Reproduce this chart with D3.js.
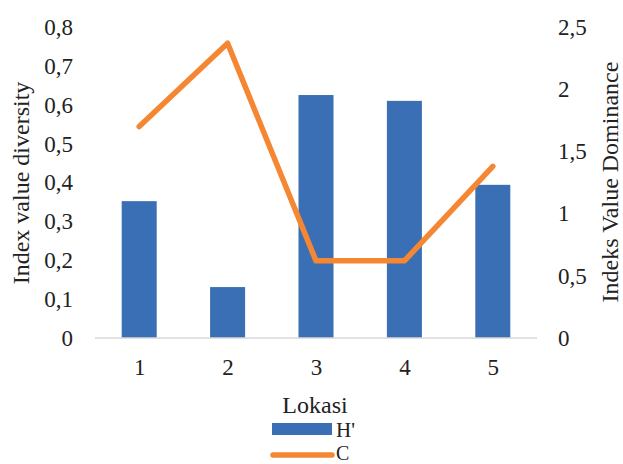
<!DOCTYPE html>
<html><head><meta charset="utf-8">
<script src="https://cdn.jsdelivr.net/npm/d3@7"></script>
<style>body{margin:0;background:#fff}svg{display:block}</style>
</head><body>
<svg id="c" width="623" height="464"></svg>
<script>
const categories = ["1","2","3","4","5"];
const hValues = [0.352, 0.131, 0.625, 0.610, 0.394];
const cValues = [1.70, 2.37, 0.62, 0.62, 1.38];
const leftTicks = [0,0.1,0.2,0.3,0.4,0.5,0.6,0.7,0.8];
const rightTicks = [0,0.5,1,1.5,2,2.5];

const FONT = "Liberation Serif";
const svg = d3.select("#c").attr("font-family", FONT);
const m = {l:95, r:537, t:27, b:338};
const xc = d3.scalePoint().domain(categories).range([m.l, m.r]).padding(0.5);
const yL = d3.scaleLinear().domain([0,0.8]).range([m.b, m.t]);
const yR = d3.scaleLinear().domain([0,2.5]).range([m.b, m.t]);
const fmt = d => String(d).replace(".", ",");

// bars
const bw = 35;
svg.append("g").selectAll("rect").data(hValues).join("rect")
  .attr("x", (d,i) => xc(categories[i]) - bw/2)
  .attr("width", bw)
  .attr("y", d => yL(d))
  .attr("height", d => m.b - yL(d))
  .attr("fill", "#3A6FB6");

// baseline
svg.append("line").attr("x1", m.l).attr("x2", m.r).attr("y1", m.b).attr("y2", m.b)
  .attr("stroke", "#d9d9d9").attr("stroke-width", 1.5);

// line
const line = d3.line().x((d,i) => xc(categories[i])).y(d => yR(d));
svg.append("path").datum(cValues).attr("d", line).attr("fill","none")
  .attr("stroke","#F58733").attr("stroke-width",5.5)
  .attr("stroke-linecap","round").attr("stroke-linejoin","round");

function styleAxis(g){
  g.select(".domain").remove();
  g.attr("font-family", FONT).attr("font-size", 23);
  g.selectAll("text").attr("fill","#222");
}
svg.append("g").attr("transform",`translate(${m.l},0)`)
  .call(d3.axisLeft(yL).tickValues(leftTicks).tickFormat(fmt).tickSize(0).tickPadding(22))
  .call(styleAxis);
svg.append("g").attr("transform",`translate(${m.r},0)`)
  .call(d3.axisRight(yR).tickValues(rightTicks).tickFormat(fmt).tickSize(0).tickPadding(21))
  .call(styleAxis);
svg.append("g").attr("transform",`translate(0,${m.b})`)
  .call(d3.axisBottom(xc).tickSize(0).tickPadding(21))
  .call(styleAxis);

function txt(){ return svg.append("text").attr("font-family",FONT).attr("fill","#222"); }
txt().attr("transform",`translate(29,183) rotate(-90)`).attr("text-anchor","middle")
  .attr("font-size",24).text("Index value diversity");
txt().attr("transform",`translate(618,182) rotate(-90)`).attr("text-anchor","middle")
  .attr("font-size",24).text("Indeks Value Dominance");
txt().attr("x",315).attr("y",413).attr("text-anchor","middle")
  .attr("font-size",24).text("Lokasi");

// legend
svg.append("rect").attr("x",272).attr("y",423).attr("width",60).attr("height",12).attr("fill","#3A6FB6");
txt().attr("x",336).attr("y",437).attr("font-size",21).text("H'");
svg.append("line").attr("x1",273).attr("x2",332).attr("y1",455).attr("y2",455)
  .attr("stroke","#F58733").attr("stroke-width",5.5).attr("stroke-linecap","round");
txt().attr("x",336).attr("y",460).attr("font-size",20).text("C");
</script>
</body></html>
